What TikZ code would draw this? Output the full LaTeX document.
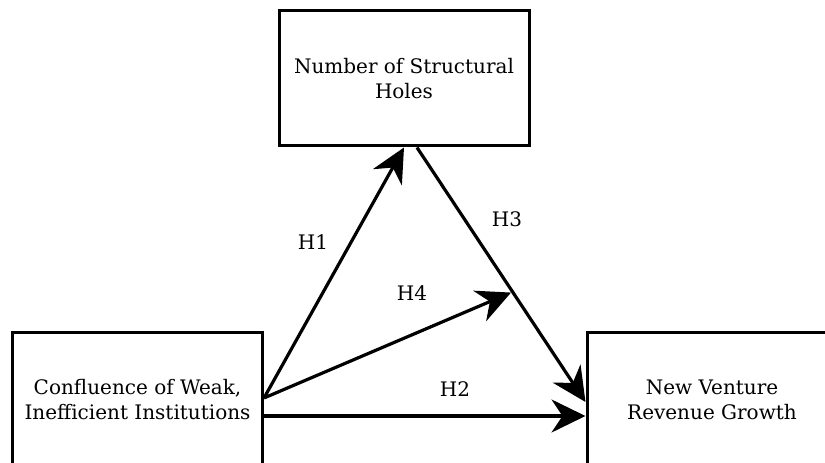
\documentclass[tikz,border=0pt]{standalone}
\usepackage{fontspec}
\setmainfont{DejaVu Serif}
\usetikzlibrary{arrows.meta,calc}
\tikzset{
  box/.style={draw,line width=3pt,minimum width=250pt,minimum height=135pt,align=center,font=\fontsize{20}{25}\selectfont},
  hyp/.style={line width=3.2pt,-{Stealth[length=34pt,width=33pt,inset=11pt]}},
  lbl/.style={font=\fontsize{20}{25}\selectfont}
}
\begin{document}
\begin{tikzpicture}[x=1pt,y=1pt]
\useasboundingbox (0,0) rectangle (825,463);
\node[box] (holes) at (404,384.5) {Number of Structural\\Holes};
\node[box] (inst) at (137.5,63) {Confluence of Weak,\\Inefficient Institutions};
\node[box] (growth) at (712,63) {New Venture\\Revenue Growth};
\coordinate (h3start) at ([xshift=13pt]holes.south);
\coordinate (h3end) at ([yshift=-2pt]growth.west);
\coordinate (h4end) at ($(h3start)!0.57!(h3end)$);
\draw[hyp] ([yshift=2pt]inst.east)--(holes.south);
\draw[hyp] (h3start)--(h3end);
\draw[hyp] ([yshift=2pt]inst.east)--([xshift=-2pt]h4end);
\draw[hyp] ([yshift=-16pt]inst.east)--([yshift=-16pt]growth.west);
\node[lbl] (l1) at (313,221) {H1};
\node[lbl] (l3) at (507,244) {H3};
\node[lbl] (l4) at (412,170) {H4};
\node[lbl] (l2) at (455,74) {H2};
\end{tikzpicture}
\end{document}
